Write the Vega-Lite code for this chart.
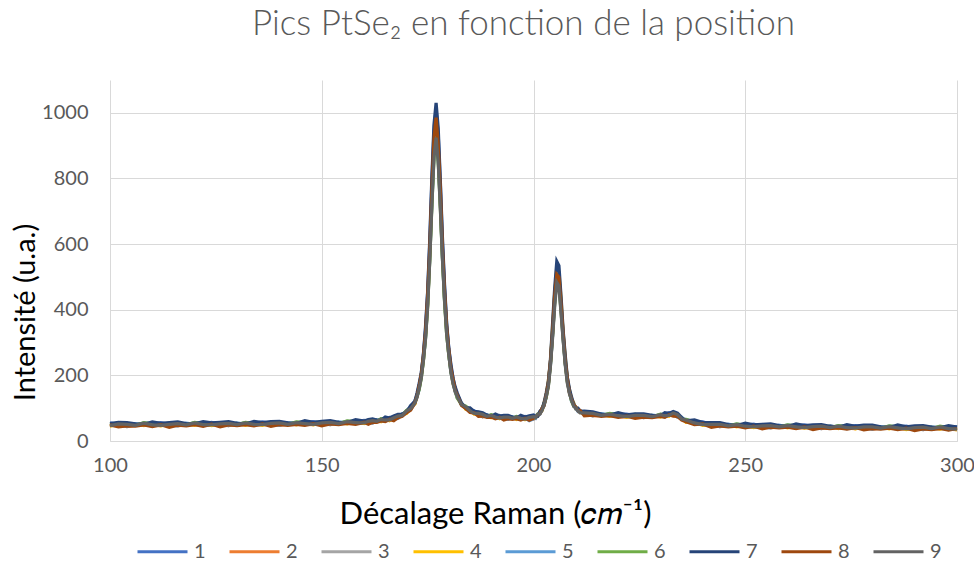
{
  "$schema": "https://vega.github.io/schema/vega-lite/v6.json",
  "width": 847,
  "height": 361,
  "autosize": {"type": "none"},
  "padding": {"left": 110, "top": 80, "right": 17, "bottom": 120},
  "config": {"font": "Lato", "view": {"stroke": null}},
  "title": {"text": "Pics PtSe₂ en fonction de la position", "fontSize": 35, "fontWeight": 300, "color": "#595959", "frame": "group", "anchor": "middle", "dx": -10, "baseline": "alphabetic", "offset": 10},
  "data": {"values": [
{"x":100,"1":55,"2":46,"3":51,"4":45,"5":51,"6":51,"7":53,"8":49,"9":47},
{"x":102,"1":51,"2":53,"3":48,"4":52,"5":49,"6":55,"7":57,"8":43,"9":52},
{"x":104,"1":52,"2":44,"3":53,"4":48,"5":44,"6":48,"7":56,"8":46,"9":51},
{"x":106,"1":48,"2":49,"3":49,"4":52,"5":53,"6":48,"7":52,"8":45,"9":48},
{"x":108,"1":55,"2":52,"3":49,"4":47,"5":50,"6":56,"7":51,"8":49,"9":54},
{"x":110,"1":52,"2":47,"3":52,"4":53,"5":46,"6":52,"7":58,"8":44,"9":49},
{"x":112,"1":56,"2":47,"3":52,"4":46,"5":52,"6":52,"7":54,"8":50,"9":48},
{"x":114,"1":50,"2":52,"3":47,"4":51,"5":48,"6":54,"7":56,"8":42,"9":51},
{"x":116,"1":54,"2":46,"3":55,"4":50,"5":46,"6":50,"7":58,"8":48,"9":53},
{"x":118,"1":49,"2":50,"3":50,"4":53,"5":54,"6":49,"7":53,"8":46,"9":49},
{"x":120,"1":56,"2":53,"3":50,"4":48,"5":51,"6":57,"7":52,"8":50,"9":55},
{"x":122,"1":53,"2":48,"3":53,"4":54,"5":47,"6":53,"7":59,"8":45,"9":50},
{"x":124,"1":57,"2":48,"3":53,"4":47,"5":53,"6":53,"7":55,"8":51,"9":49},
{"x":126,"1":51,"2":53,"3":48,"4":52,"5":49,"6":55,"7":57,"8":43,"9":52},
{"x":128,"1":55,"2":47,"3":56,"4":51,"5":47,"6":51,"7":59,"8":49,"9":54},
{"x":130,"1":50,"2":51,"3":51,"4":54,"5":55,"6":50,"7":54,"8":47,"9":50},
{"x":132,"1":56,"2":53,"3":50,"4":48,"5":51,"6":57,"7":52,"8":50,"9":55},
{"x":134,"1":54,"2":49,"3":54,"4":55,"5":48,"6":54,"7":60,"8":46,"9":51},
{"x":136,"1":58,"2":49,"3":54,"4":48,"5":54,"6":54,"7":56,"8":52,"9":50},
{"x":138,"1":53,"2":55,"3":50,"4":54,"5":51,"6":57,"7":59,"8":45,"9":54},
{"x":140,"1":56,"2":48,"3":57,"4":52,"5":48,"6":52,"7":60,"8":50,"9":55},
{"x":142,"1":51,"2":52,"3":52,"4":55,"5":56,"6":51,"7":55,"8":48,"9":51},
{"x":144,"1":57,"2":54,"3":51,"4":49,"5":52,"6":58,"7":53,"8":51,"9":56},
{"x":146,"1":56,"2":51,"3":56,"4":57,"5":50,"6":56,"7":62,"8":48,"9":53},
{"x":148,"1":59,"2":50,"3":55,"4":49,"5":55,"6":55,"7":57,"8":53,"9":51},
{"x":150,"1":54,"2":56,"3":51,"4":55,"5":52,"6":58,"7":60,"8":46,"9":55},
{"x":152,"1":58,"2":50,"3":59,"4":54,"5":50,"6":54,"7":62,"8":52,"9":57},
{"x":154,"1":53,"2":54,"3":54,"4":57,"5":58,"6":53,"7":57,"8":50,"9":53},
{"x":156,"1":60,"2":57,"3":54,"4":52,"5":55,"6":61,"7":56,"8":54,"9":59},
{"x":158,"1":59,"2":54,"3":59,"4":60,"5":53,"6":59,"7":65,"8":51,"9":56},
{"x":160,"1":63,"2":54,"3":59,"4":53,"5":59,"6":59,"7":61,"8":57,"9":55},
{"x":161,"1":59,"2":61,"3":56,"4":60,"5":57,"6":63,"7":65,"8":51,"9":60},
{"x":162,"1":63,"2":55,"3":64,"4":59,"5":55,"6":59,"7":67,"8":57,"9":62},
{"x":163,"1":60,"2":61,"3":61,"4":64,"5":65,"6":60,"7":64,"8":57,"9":60},
{"x":164,"1":67,"2":64,"3":61,"4":59,"5":62,"6":68,"7":63,"8":61,"9":66},
{"x":165,"1":67,"2":62,"3":67,"4":68,"5":61,"6":67,"7":73,"8":59,"9":64},
{"x":166,"1":72,"2":63,"3":68,"4":62,"5":68,"6":68,"7":70,"8":66,"9":64},
{"x":167,"1":70,"2":72,"3":67,"4":71,"5":68,"6":74,"7":76,"8":62,"9":71},
{"x":168,"1":77,"2":69,"3":78,"4":73,"5":69,"6":73,"7":81,"8":71,"9":76},
{"x":169,"1":78,"2":79,"3":79,"4":82,"5":83,"6":78,"7":82,"8":75,"9":78},
{"x":170,"1":92,"2":89,"3":86,"4":84,"5":87,"6":93,"7":88,"8":86,"9":91},
{"x":171,"1":102,"2":97,"3":102,"4":103,"5":96,"6":102,"7":108,"8":94,"9":99},
{"x":172,"1":123,"2":114,"3":119,"4":113,"5":119,"6":119,"7":121,"8":117,"9":115},
{"x":172.5,"1":140,"2":141,"3":132,"4":139,"5":135,"6":137,"7":146,"8":136,"9":135},
{"x":173,"1":171,"2":160,"3":164,"4":162,"5":157,"6":157,"7":175,"8":167,"9":161},
{"x":173.5,"1":204,"2":200,"3":194,"4":201,"5":200,"6":191,"7":208,"8":202,"9":192},
{"x":174,"1":264,"2":254,"3":243,"4":246,"5":247,"6":247,"7":262,"8":258,"9":246},
{"x":174.5,"1":338,"2":322,"3":317,"4":324,"5":315,"6":313,"7":348,"8":329,"9":311},
{"x":175,"1":450,"2":424,"3":416,"4":418,"5":421,"6":411,"7":454,"8":440,"9":408},
{"x":175.5,"1":598,"2":574,"3":552,"4":567,"5":559,"6":553,"7":612,"8":581,"9":551},
{"x":176,"1":786,"2":742,"3":729,"4":738,"5":728,"6":716,"7":802,"8":766,"9":720},
{"x":176.5,"1":945,"2":901,"3":874,"4":894,"5":887,"6":864,"7":963,"8":923,"9":865},
{"x":177,"1":1011,"2":959,"3":928,"4":945,"5":939,"6":925,"7":1030,"8":985,"9":924},
{"x":177.5,"1":932,"2":883,"3":862,"4":880,"5":865,"6":853,"7":953,"8":906,"9":851},
{"x":178,"1":783,"2":738,"3":721,"4":729,"5":729,"6":713,"7":792,"8":763,"9":710},
{"x":178.5,"1":603,"2":579,"3":557,"4":572,"5":564,"6":558,"7":618,"8":586,"9":556},
{"x":179,"1":465,"2":438,"3":434,"4":437,"5":430,"6":424,"7":474,"8":453,"9":428},
{"x":179.5,"1":351,"2":339,"3":329,"4":338,"5":337,"6":324,"7":358,"8":345,"9":325},
{"x":180,"1":283,"2":271,"3":260,"4":263,"5":264,"6":264,"7":281,"8":276,"9":263},
{"x":180.5,"1":226,"2":216,"3":214,"4":219,"5":211,"6":211,"7":233,"8":219,"9":209},
{"x":181,"1":192,"2":180,"3":179,"4":176,"5":181,"6":177,"7":191,"8":188,"9":174},
{"x":181.5,"1":159,"2":159,"3":149,"4":156,"5":152,"6":154,"7":165,"8":154,"9":152},
{"x":182,"1":142,"2":133,"3":138,"4":136,"5":131,"6":131,"7":146,"8":140,"9":135},
{"x":183,"1":111,"2":112,"3":112,"4":115,"5":116,"6":111,"7":115,"8":108,"9":111},
{"x":184,"1":105,"2":102,"3":99,"4":97,"5":100,"6":106,"7":101,"8":99,"9":104},
{"x":185,"1":95,"2":90,"3":95,"4":96,"5":89,"6":95,"7":101,"8":87,"9":92},
{"x":186,"1":92,"2":83,"3":88,"4":82,"5":88,"6":88,"7":90,"8":86,"9":84},
{"x":187,"1":83,"2":85,"3":80,"4":84,"5":81,"6":87,"7":89,"8":75,"9":84},
{"x":188,"1":82,"2":74,"3":83,"4":78,"5":74,"6":78,"7":86,"8":76,"9":81},
{"x":189,"1":75,"2":76,"3":76,"4":79,"5":80,"6":75,"7":79,"8":72,"9":75},
{"x":190,"1":79,"2":76,"3":73,"4":71,"5":74,"6":80,"7":75,"8":73,"9":78},
{"x":191,"1":76,"2":71,"3":76,"4":77,"5":70,"6":76,"7":82,"8":68,"9":73},
{"x":192,"1":78,"2":69,"3":74,"4":68,"5":74,"6":74,"7":76,"8":72,"9":70},
{"x":193,"1":72,"2":74,"3":69,"4":73,"5":70,"6":76,"7":78,"8":64,"9":73},
{"x":194,"1":74,"2":66,"3":75,"4":70,"5":66,"6":70,"7":78,"8":68,"9":73},
{"x":195,"1":69,"2":70,"3":70,"4":73,"5":74,"6":69,"7":73,"8":66,"9":69},
{"x":196,"1":74,"2":71,"3":68,"4":66,"5":69,"6":75,"7":70,"8":68,"9":73},
{"x":197,"1":72,"2":67,"3":72,"4":73,"5":66,"6":72,"7":78,"8":64,"9":69},
{"x":198,"1":75,"2":66,"3":71,"4":65,"5":71,"6":71,"7":73,"8":69,"9":67},
{"x":199,"1":71,"2":73,"3":68,"4":72,"5":62,"6":75,"7":77,"8":63,"9":72},
{"x":200,"1":75,"2":67,"3":76,"4":71,"5":67,"6":71,"7":79,"8":69,"9":74},
{"x":200.5,"1":70,"2":75,"3":73,"4":77,"5":78,"6":71,"7":73,"8":73,"9":72},
{"x":201,"1":81,"2":81,"3":76,"4":76,"5":78,"6":82,"7":75,"8":80,"9":81},
{"x":201.5,"1":85,"2":83,"3":86,"4":89,"5":81,"6":85,"7":90,"8":83,"9":83},
{"x":202,"1":100,"2":94,"3":96,"4":93,"5":98,"6":95,"7":97,"8":99,"9":92},
{"x":202.5,"1":111,"2":115,"3":107,"4":116,"5":110,"6":113,"7":117,"8":108,"9":110},
{"x":203,"1":141,"2":134,"3":139,"4":141,"5":132,"6":133,"7":146,"8":139,"9":136},
{"x":203.5,"1":173,"2":174,"3":169,"4":182,"5":176,"6":167,"7":181,"8":174,"9":166},
{"x":204,"1":243,"2":238,"3":228,"4":241,"5":233,"6":234,"7":247,"8":240,"9":230},
{"x":204.5,"1":338,"2":327,"3":322,"4":347,"5":322,"6":321,"7":357,"8":331,"9":314},
{"x":205,"1":448,"2":429,"3":421,"4":448,"5":429,"6":420,"7":465,"8":441,"9":410},
{"x":205.5,"1":517,"2":507,"3":487,"4":530,"5":497,"6":493,"7":547,"8":507,"9":483},
{"x":206,"1":508,"2":487,"3":482,"4":515,"5":482,"6":476,"7":534,"8":499,"9":472},
{"x":206.5,"1":419,"2":411,"3":399,"4":433,"5":411,"6":397,"7":441,"8":416,"9":391},
{"x":207,"1":329,"2":320,"3":308,"4":329,"5":315,"6":314,"7":337,"8":324,"9":308},
{"x":207.5,"1":247,"2":239,"3":237,"4":254,"5":235,"6":236,"7":260,"8":241,"9":231},
{"x":208,"1":191,"2":181,"3":181,"4":186,"5":184,"6":180,"7":193,"8":189,"9":175},
{"x":208.5,"1":149,"2":152,"3":143,"4":155,"5":147,"6":149,"7":158,"8":146,"9":146},
{"x":209,"1":128,"2":122,"3":127,"4":128,"5":120,"6":121,"7":133,"8":127,"9":124},
{"x":209.5,"1":108,"2":111,"3":108,"4":116,"5":114,"6":106,"7":112,"8":110,"9":106},
{"x":210,"1":103,"2":103,"3":97,"4":99,"5":100,"6":103,"7":99,"8":103,"9":101},
{"x":210.5,"1":95,"2":93,"3":95,"4":99,"5":90,"6":94,"7":100,"8":92,"9":92},
{"x":211,"1":93,"2":87,"3":90,"4":87,"5":91,"6":89,"7":90,"8":93,"9":86},
{"x":212,"1":85,"2":87,"3":82,"4":86,"5":83,"6":89,"7":91,"8":77,"9":86},
{"x":214,"1":85,"2":77,"3":86,"4":81,"5":77,"6":81,"7":89,"8":79,"9":84},
{"x":216,"1":78,"2":79,"3":79,"4":82,"5":83,"6":78,"7":82,"8":75,"9":78},
{"x":218,"1":83,"2":80,"3":77,"4":75,"5":78,"6":84,"7":79,"8":77,"9":82},
{"x":220,"1":80,"2":75,"3":80,"4":81,"5":74,"6":80,"7":86,"8":72,"9":77},
{"x":222,"1":82,"2":73,"3":78,"4":72,"5":78,"6":78,"7":80,"8":76,"9":74},
{"x":224,"1":77,"2":79,"3":74,"4":78,"5":75,"6":81,"7":83,"8":69,"9":78},
{"x":226,"1":79,"2":71,"3":80,"4":75,"5":71,"6":75,"7":83,"8":73,"9":78},
{"x":228,"1":74,"2":75,"3":75,"4":78,"5":79,"6":74,"7":78,"8":71,"9":74},
{"x":230,"1":81,"2":78,"3":75,"4":73,"5":76,"6":82,"7":77,"8":75,"9":80},
{"x":231,"1":80,"2":75,"3":80,"4":81,"5":74,"6":80,"7":86,"8":72,"9":77},
{"x":232,"1":86,"2":77,"3":82,"4":76,"5":82,"6":82,"7":84,"8":80,"9":78},
{"x":233,"1":84,"2":86,"3":81,"4":85,"5":82,"6":88,"7":90,"8":76,"9":85},
{"x":234,"1":81,"2":73,"3":82,"4":77,"5":73,"6":77,"7":85,"8":75,"9":80},
{"x":235,"1":67,"2":68,"3":68,"4":71,"5":72,"6":67,"7":71,"8":64,"9":67},
{"x":236,"1":65,"2":62,"3":59,"4":57,"5":60,"6":66,"7":61,"8":59,"9":64},
{"x":238,"1":58,"2":53,"3":58,"4":59,"5":52,"6":58,"7":64,"8":50,"9":55},
{"x":240,"1":58,"2":49,"3":54,"4":48,"5":54,"6":54,"7":56,"8":52,"9":50},
{"x":242,"1":50,"2":52,"3":47,"4":51,"5":48,"6":54,"7":56,"8":42,"9":51},
{"x":244,"1":52,"2":44,"3":53,"4":48,"5":44,"6":48,"7":56,"8":46,"9":51},
{"x":246,"1":46,"2":47,"3":47,"4":50,"5":51,"6":46,"7":50,"8":43,"9":46},
{"x":248,"1":51,"2":48,"3":45,"4":43,"5":46,"6":52,"7":47,"8":45,"9":50},
{"x":250,"1":48,"2":43,"3":48,"4":49,"5":42,"6":48,"7":54,"8":40,"9":45},
{"x":252,"1":51,"2":42,"3":47,"4":41,"5":47,"6":47,"7":49,"8":45,"9":43},
{"x":254,"1":45,"2":47,"3":42,"4":46,"5":43,"6":49,"7":51,"8":37,"9":46},
{"x":256,"1":48,"2":40,"3":49,"4":44,"5":40,"6":44,"7":52,"8":42,"9":47},
{"x":258,"1":43,"2":44,"3":44,"4":47,"5":48,"6":43,"7":47,"8":40,"9":43},
{"x":260,"1":48,"2":45,"3":42,"4":40,"5":43,"6":49,"7":44,"8":42,"9":47},
{"x":262,"1":46,"2":41,"3":46,"4":47,"5":40,"6":46,"7":52,"8":38,"9":43},
{"x":264,"1":49,"2":40,"3":45,"4":39,"5":45,"6":45,"7":47,"8":43,"9":41},
{"x":266,"1":43,"2":45,"3":40,"4":44,"5":41,"6":47,"7":49,"8":35,"9":44},
{"x":268,"1":46,"2":38,"3":47,"4":42,"5":38,"6":42,"7":50,"8":40,"9":45},
{"x":270,"1":41,"2":42,"3":42,"4":45,"5":46,"6":41,"7":45,"8":38,"9":41},
{"x":272,"1":46,"2":43,"3":40,"4":38,"5":41,"6":47,"7":42,"8":40,"9":45},
{"x":274,"1":44,"2":39,"3":44,"4":45,"5":38,"6":44,"7":50,"8":36,"9":41},
{"x":276,"1":47,"2":38,"3":43,"4":37,"5":43,"6":43,"7":45,"8":41,"9":39},
{"x":278,"1":42,"2":44,"3":39,"4":43,"5":40,"6":46,"7":48,"8":34,"9":43},
{"x":280,"1":44,"2":36,"3":45,"4":40,"5":36,"6":40,"7":48,"8":38,"9":43},
{"x":282,"1":39,"2":40,"3":40,"4":43,"5":44,"6":39,"7":43,"8":36,"9":39},
{"x":284,"1":45,"2":42,"3":39,"4":37,"5":40,"6":46,"7":41,"8":39,"9":44},
{"x":286,"1":43,"2":38,"3":43,"4":44,"5":37,"6":43,"7":49,"8":35,"9":40},
{"x":288,"1":45,"2":36,"3":41,"4":35,"5":41,"6":41,"7":43,"8":39,"9":37},
{"x":290,"1":40,"2":42,"3":37,"4":41,"5":38,"6":44,"7":46,"8":32,"9":41},
{"x":292,"1":43,"2":35,"3":44,"4":39,"5":35,"6":39,"7":47,"8":37,"9":42},
{"x":294,"1":38,"2":39,"3":39,"4":42,"5":43,"6":38,"7":42,"8":35,"9":38},
{"x":296,"1":44,"2":41,"3":38,"4":36,"5":39,"6":45,"7":40,"8":38,"9":43},
{"x":298,"1":41,"2":36,"3":41,"4":42,"5":35,"6":41,"7":47,"8":33,"9":38},
{"x":300,"1":44,"2":35,"3":40,"4":34,"5":40,"6":40,"7":42,"8":38,"9":36}
  ]},
  "transform": [{"fold": ["1","2","3","4","5","6","7","8","9"], "as": ["serie","val"]}],
  "mark": {"type": "line", "strokeWidth": 3.25, "interpolate": "linear"},
  "encoding": {
    "x": {"field": "x", "type": "quantitative",
      "scale": {"domain": [100, 300], "nice": false, "zero": false},
      "axis": {"values": [100,150,200,250,300], "grid": true, "gridColor": "#D9D9D9", "domainColor": "#D9D9D9", "domainWidth": 1, "ticks": false, "labelColor": "#595959", "labelFontSize": 20, "labelPadding": 14, "labelFlush": false,
        "title": "Décalage Raman (𝑐𝑚⁻¹)", "titleFontSize": 31, "titleFontWeight": "normal", "titleColor": "#000000", "titleX": 385, "titleY": 82, "titleAlign": "center", "titleBaseline": "alphabetic"}},
    "y": {"field": "val", "type": "quantitative",
      "scale": {"domain": [0, 1100], "nice": false},
      "axis": {"values": [0,200,400,600,800,1000], "format": "d", "grid": true, "gridColor": "#D9D9D9", "domain": false, "ticks": false, "labelColor": "#595959", "labelFontSize": 20, "labelPadding": 22,
        "title": "Intensité (u.a.)", "titleFontSize": 29, "titleFontWeight": "normal", "titleColor": "#000000", "titleX": -76, "titleY": 232, "titleAlign": "center", "titleBaseline": "alphabetic", "titleAngle": -90}},
    "color": {"field": "serie", "type": "nominal",
      "scale": {"domain": ["1","2","3","4","5","6","7","8","9"], "range": ["#4472C4","#ED7D31","#A5A5A5","#FFC000","#5B9BD5","#70AD47","#264478","#9E480E","#636363"]},
      "legend": {"title": null, "orient": "none", "direction": "horizontal", "legendX": 26, "legendY": 445, "symbolType": "stroke", "symbolStrokeWidth": 3, "symbolSize": 2500, "labelFontSize": 20, "labelColor": "#595959", "labelOffset": 5, "columnPadding": 17}}
  }
}
